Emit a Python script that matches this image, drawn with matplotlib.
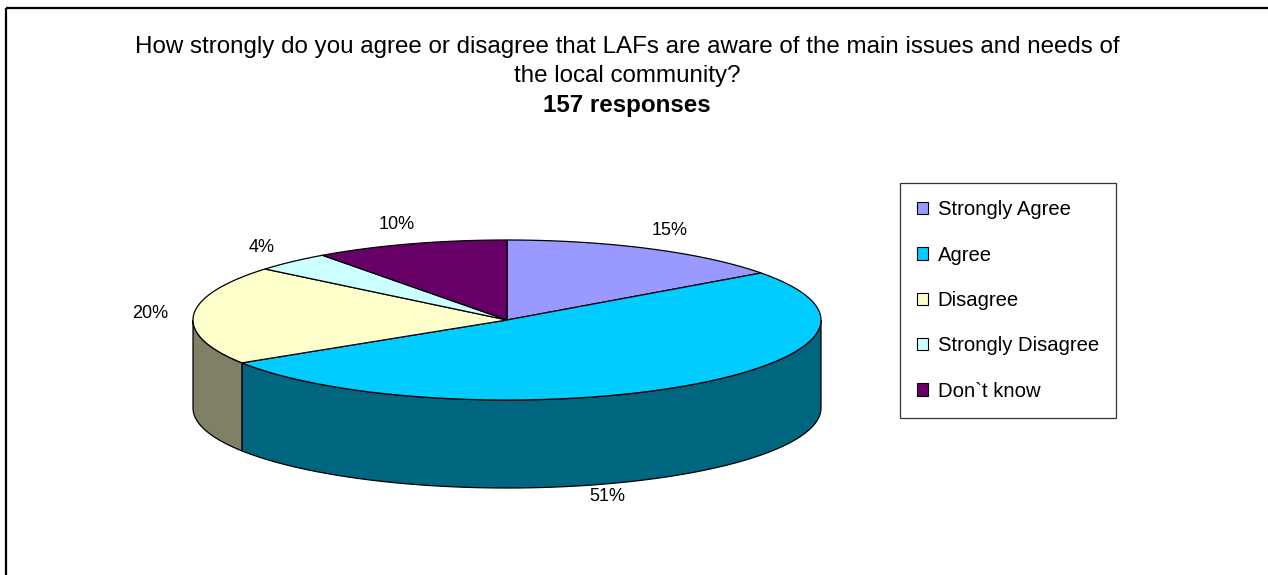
import numpy as np
import matplotlib
matplotlib.use("Agg")
import matplotlib.pyplot as plt
from matplotlib.patches import Polygon, Patch, Rectangle

plt.rcParams["font.family"] = ["Liberation Sans", "DejaVu Sans"]

# data
categories = ["Strongly Agree", "Agree", "Disagree", "Strongly Disagree", "Don`t know"]
shares = [15, 51, 20, 4, 10]
pct_labels = ["15%", "51%", "20%", "4%", "10%"]
colors = ["#9999FF", "#00CCFF", "#FFFFCC", "#CCFFFF", "#660066"]
title_lines = [
    "How strongly do you agree or disagree that LAFs are aware of the main issues and needs of",
    "the local community?",
]
subtitle = "157 responses"

W, H = 1268, 575
fig = plt.figure(figsize=(W / 100, H / 100), dpi=100)
ax = fig.add_axes([0, 0, 1, 1])
ax.set_xlim(0, W)
ax.set_ylim(H, 0)
ax.axis("off")

# outer chart frame (cut off on right / bottom like the source)
ax.add_patch(Rectangle((6, 8), W + 20, H + 20, fill=False, ec="black", lw=1.6))

# pie geometry (pixel layout)
cx, cy, rx, ry, depth = 507, 320, 314, 80, 88


def shade(c, f=0.5):
    r, g, b = matplotlib.colors.to_rgb(c)
    return (r * f, g * f, b * f)


def ell(theta):
    # theta in degrees, clockwise from 12 o'clock
    t = np.radians(theta)
    return cx + rx * np.sin(t), cy - ry * np.cos(t)


bounds = np.concatenate([[0], np.cumsum(shares)]) / np.sum(shares) * 360.0

# side walls (only front half visible: 90..270 deg)
for i in range(len(shares)):
    a0, a1 = max(bounds[i], 90.0), min(bounds[i + 1], 270.0)
    if a1 <= a0:
        continue
    th = np.linspace(a0, a1, 120)
    xs, ys = ell(th)
    pts = np.column_stack([np.concatenate([xs, xs[::-1]]),
                           np.concatenate([ys, ys[::-1] + depth])])
    ax.add_patch(Polygon(pts, closed=True, fc=shade(colors[i]), ec="black", lw=0.9))

# top faces
for i in range(len(shares)):
    th = np.linspace(bounds[i], bounds[i + 1], 200)
    xs, ys = ell(th)
    pts = np.column_stack([np.concatenate([[cx], xs]), np.concatenate([[cy], ys])])
    ax.add_patch(Polygon(pts, closed=True, fc=colors[i], ec="black", lw=0.9))

# percentage labels
for i in range(len(shares)):
    mid = np.radians((bounds[i] + bounds[i + 1]) / 2)
    lx = cx + rx * 1.14 * np.sin(mid)
    ly = cy - ry * 1.25 * np.cos(mid)
    if np.cos(mid) < 0:
        ly += depth + 6
        lx = cx + (lx - cx) * 0.5
    ax.text(lx, ly, pct_labels[i], ha="center", va="center", fontsize=13)

# title
fig.text(627 / W, 1 - 47 / H, title_lines[0], ha="center", va="center", fontsize=17.4)
fig.text(627 / W, 1 - 76 / H, title_lines[1], ha="center", va="center", fontsize=17.4)
fig.text(627 / W, 1 - 105 / H, subtitle, ha="center", va="center", fontsize=17.4, fontweight="bold")

# legend
handles = [Patch(fc=c, ec="black", lw=0.8) for c in colors]
leg = fig.legend(handles, categories, loc="upper left",
                 bbox_to_anchor=(900 / W, 1 - 183 / H), fontsize=14.6,
                 frameon=True, fancybox=False, edgecolor="black",
                 handlelength=0.55, handleheight=0.55, handletextpad=0.45,
                 labelspacing=1.3, borderpad=0.85, borderaxespad=0)
leg.get_frame().set_linewidth(0.9)

fig.savefig("out.png", dpi=100, facecolor="white")
